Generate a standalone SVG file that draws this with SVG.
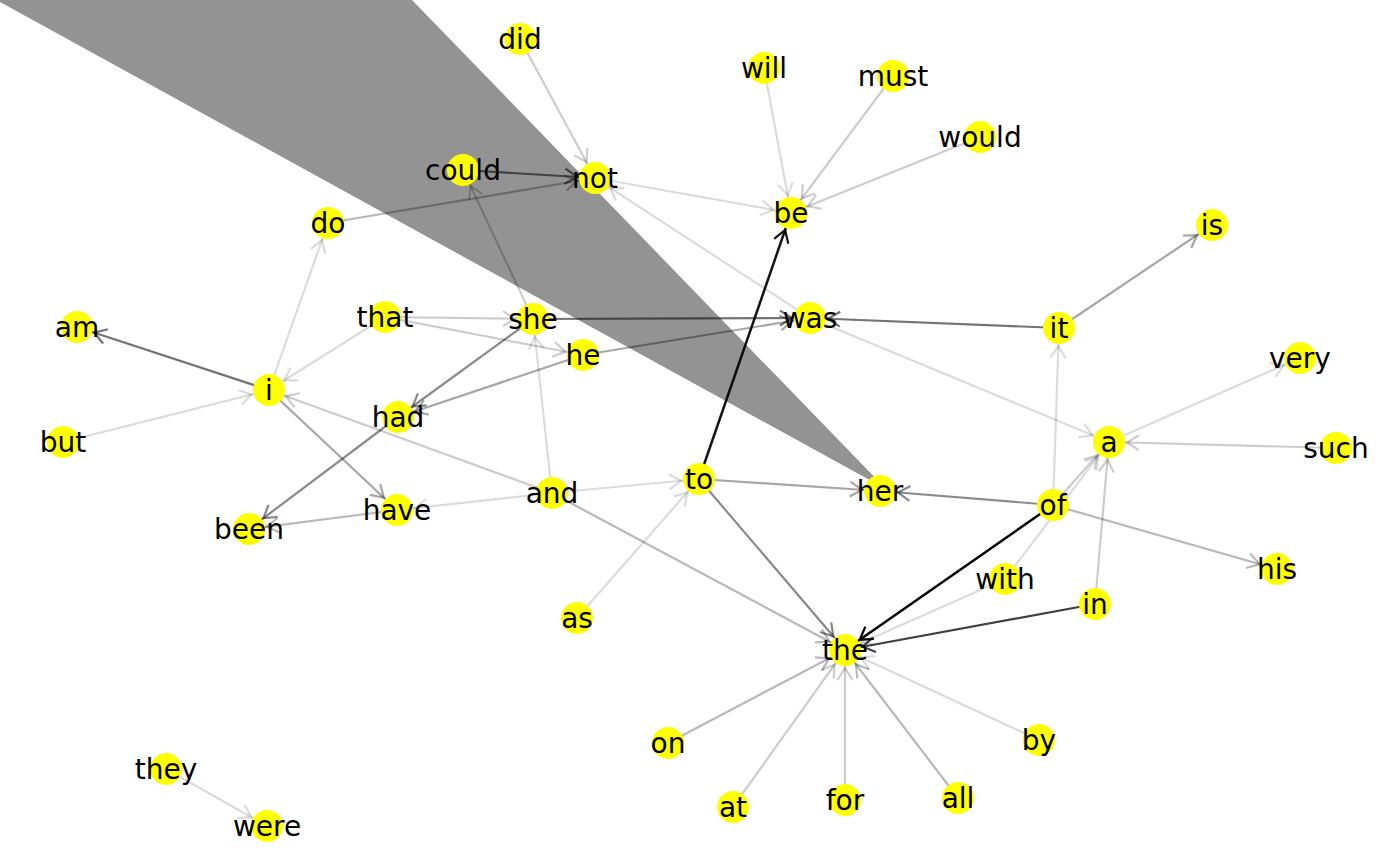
<svg xmlns="http://www.w3.org/2000/svg" width="1400" height="866" viewBox="0 0 1400 866">
<defs>
<style>
.e{fill:none;stroke:#000;stroke-width:2.2}
.c1{stroke-opacity:.14}.c2{stroke-opacity:.2}.c3{stroke-opacity:.28}.c4{stroke-opacity:.35}.c5{stroke-opacity:.46}.c6{stroke-opacity:.55}.c7{stroke-opacity:.75}.c8{stroke-opacity:.92;stroke-width:2.5}.c9{stroke-opacity:1;stroke-width:2.5}
.ah{fill:none;stroke:#000;stroke-width:2.2}
.n circle{fill:#ffff00}
.n text{font-family:"DejaVu Sans",sans-serif;font-size:28px;text-anchor:middle;fill:#000}
</style>
<marker id="m1" markerUnits="userSpaceOnUse" viewBox="-40 -10 40 20" refX="0" refY="0" markerWidth="40" markerHeight="20" orient="auto" overflow="visible"><path class="ah" stroke-opacity=".14" d="M-30,-7.5L-18,0L-30,7.5"/></marker>
<marker id="m2" markerUnits="userSpaceOnUse" viewBox="-40 -10 40 20" refX="0" refY="0" markerWidth="40" markerHeight="20" orient="auto" overflow="visible"><path class="ah" stroke-opacity=".2" d="M-30,-7.5L-18,0L-30,7.5"/></marker>
<marker id="m3" markerUnits="userSpaceOnUse" viewBox="-40 -10 40 20" refX="0" refY="0" markerWidth="40" markerHeight="20" orient="auto" overflow="visible"><path class="ah" stroke-opacity=".28" d="M-30,-7.5L-18,0L-30,7.5"/></marker>
<marker id="m4" markerUnits="userSpaceOnUse" viewBox="-40 -10 40 20" refX="0" refY="0" markerWidth="40" markerHeight="20" orient="auto" overflow="visible"><path class="ah" stroke-opacity=".35" d="M-30,-7.5L-18,0L-30,7.5"/></marker>
<marker id="m5" markerUnits="userSpaceOnUse" viewBox="-40 -10 40 20" refX="0" refY="0" markerWidth="40" markerHeight="20" orient="auto" overflow="visible"><path class="ah" stroke-opacity=".46" d="M-30,-7.5L-18,0L-30,7.5"/></marker>
<marker id="m6" markerUnits="userSpaceOnUse" viewBox="-40 -10 40 20" refX="0" refY="0" markerWidth="40" markerHeight="20" orient="auto" overflow="visible"><path class="ah" stroke-opacity=".55" d="M-30,-7.5L-18,0L-30,7.5"/></marker>
<marker id="m7" markerUnits="userSpaceOnUse" viewBox="-40 -10 40 20" refX="0" refY="0" markerWidth="40" markerHeight="20" orient="auto" overflow="visible"><path class="ah" stroke-opacity=".75" d="M-30,-7.5L-18,0L-30,7.5"/></marker>
<marker id="m8" markerUnits="userSpaceOnUse" viewBox="-40 -10 40 20" refX="0" refY="0" markerWidth="40" markerHeight="20" orient="auto" overflow="visible"><path class="ah" stroke-opacity=".92" stroke-width="2.5" d="M-30,-7.5L-18,0L-30,7.5"/></marker>
<marker id="m9" markerUnits="userSpaceOnUse" viewBox="-40 -10 40 20" refX="0" refY="0" markerWidth="40" markerHeight="20" orient="auto" overflow="visible"><path class="ah" stroke-width="2.5" d="M-30,-7.5L-18,0L-30,7.5"/></marker>
</defs>
<rect width="1400" height="866" fill="#ffffff"/>
<polygon id="band" points="0,0 412,0 886,489 0,2" fill="#939393"/>
<g id="edges">
<line class="e c2" x1="520" y1="39" x2="595" y2="178" marker-end="url(#m2)"/>
<line class="e c6" x1="463" y1="170" x2="595" y2="178" marker-end="url(#m6)"/>
<line class="e c3" x1="328" y1="223" x2="595" y2="178" marker-end="url(#m3)"/>
<line class="e c1" x1="595" y1="178" x2="791" y2="213" marker-end="url(#m1)"/>
<line class="e c1" x1="764" y1="68" x2="791" y2="213" marker-end="url(#m1)"/>
<line class="e c2" x1="893" y1="76" x2="791" y2="213" marker-end="url(#m2)"/>
<line class="e c2" x1="980" y1="137" x2="791" y2="213" marker-end="url(#m2)"/>
<line class="e c8" x1="699" y1="479" x2="791" y2="213" marker-end="url(#m8)"/>
<line class="e c1" x1="810" y1="318" x2="595" y2="178" marker-end="url(#m1)"/>
<line class="e c2" x1="533" y1="319" x2="463" y2="170" marker-end="url(#m2)"/>
<line class="e c6" x1="533" y1="319" x2="810" y2="318" marker-end="url(#m6)"/>
<line class="e c6" x1="1059" y1="328" x2="810" y2="318" marker-end="url(#m6)"/>
<line class="e c4" x1="1059" y1="328" x2="1212" y2="225" marker-end="url(#m4)"/>
<line class="e c4" x1="583" y1="355" x2="810" y2="318" marker-end="url(#m4)"/>
<line class="e c2" x1="385" y1="317" x2="533" y2="319" marker-end="url(#m2)"/>
<line class="e c2" x1="385" y1="317" x2="583" y2="355" marker-end="url(#m2)"/>
<line class="e c1" x1="385" y1="317" x2="269" y2="390" marker-end="url(#m1)"/>
<line class="e c5" x1="533" y1="319" x2="398" y2="417" marker-end="url(#m5)"/>
<line class="e c4" x1="583" y1="355" x2="398" y2="417" marker-end="url(#m4)"/>
<line class="e c1" x1="552" y1="493" x2="533" y2="319" marker-end="url(#m1)"/>
<line class="e c6" x1="269" y1="390" x2="77" y2="327" marker-end="url(#m6)"/>
<line class="e c1" x1="63" y1="442" x2="269" y2="390" marker-end="url(#m1)"/>
<line class="e c1" x1="269" y1="390" x2="328" y2="223" marker-end="url(#m1)"/>
<line class="e c4" x1="269" y1="390" x2="397" y2="510" marker-end="url(#m4)"/>
<line class="e c2" x1="552" y1="493" x2="269" y2="390" marker-end="url(#m2)"/>
<line class="e c5" x1="398" y1="417" x2="249" y2="529" marker-end="url(#m5)"/>
<line class="e c3" x1="397" y1="510" x2="249" y2="529" marker-end="url(#m3)"/>
<line class="e c1" x1="552" y1="493" x2="397" y2="510" marker-end="url(#m1)"/>
<line class="e c1" x1="552" y1="493" x2="699" y2="479" marker-end="url(#m1)"/>
<line class="e c1" x1="577" y1="618" x2="699" y2="479" marker-end="url(#m1)"/>
<line class="e c4" x1="699" y1="479" x2="880" y2="491" marker-end="url(#m4)"/>
<line class="e c5" x1="1053" y1="505" x2="880" y2="491" marker-end="url(#m5)"/>
<line class="e c5" x1="699" y1="479" x2="845" y2="650" marker-end="url(#m5)"/>
<line class="e c3" x1="552" y1="493" x2="845" y2="650" marker-end="url(#m3)"/>
<line class="e c7" x1="1095" y1="604" x2="845" y2="650" marker-end="url(#m7)"/>
<line class="e c1" x1="1005" y1="579" x2="845" y2="650" marker-end="url(#m1)"/>
<line class="e c3" x1="668" y1="743" x2="845" y2="650" marker-end="url(#m3)"/>
<line class="e c2" x1="733" y1="807" x2="845" y2="650" marker-end="url(#m2)"/>
<line class="e c2" x1="845" y1="800" x2="845" y2="650" marker-end="url(#m2)"/>
<line class="e c3" x1="958" y1="798" x2="845" y2="650" marker-end="url(#m3)"/>
<line class="e c1" x1="1039" y1="740" x2="845" y2="650" marker-end="url(#m1)"/>
<line class="e c1" x1="810" y1="318" x2="1109" y2="442" marker-end="url(#m1)"/>
<line class="e c1" x1="1053" y1="505" x2="1059" y2="328" marker-end="url(#m1)"/>
<line class="e c2" x1="1053" y1="505" x2="1109" y2="442" marker-end="url(#m2)"/>
<line class="e c1" x1="1005" y1="579" x2="1109" y2="442" marker-end="url(#m1)"/>
<line class="e c2" x1="1095" y1="604" x2="1109" y2="442" marker-end="url(#m2)"/>
<line class="e c1" x1="1109" y1="442" x2="1300" y2="358" marker-end="url(#m1)"/>
<line class="e c2" x1="1336" y1="448" x2="1109" y2="442" marker-end="url(#m2)"/>
<line class="e c3" x1="1053" y1="505" x2="1277" y2="569" marker-end="url(#m3)"/>
<line class="e c9" x1="1053" y1="505" x2="845" y2="650" marker-end="url(#m9)"/>
<line class="e c1" x1="166" y1="769" x2="267" y2="826" marker-end="url(#m1)"/>
</g>
<g id="n-did" class="n"><circle cx="520" cy="39" r="16"/><text x="520" y="49">did</text></g>
<g id="n-could" class="n"><circle cx="463" cy="170" r="16"/><text x="463" y="180">could</text></g>
<g id="n-not" class="n"><circle cx="595" cy="178" r="16"/><text x="595" y="188">not</text></g>
<g id="n-will" class="n"><circle cx="764" cy="68" r="16"/><text x="764" y="78">will</text></g>
<g id="n-must" class="n"><circle cx="893" cy="76" r="16"/><text x="893" y="86">must</text></g>
<g id="n-would" class="n"><circle cx="980" cy="137" r="16"/><text x="980" y="147">would</text></g>
<g id="n-be" class="n"><circle cx="791" cy="213" r="16"/><text x="791" y="223">be</text></g>
<g id="n-is" class="n"><circle cx="1212" cy="225" r="16"/><text x="1212" y="235">is</text></g>
<g id="n-do" class="n"><circle cx="328" cy="223" r="16"/><text x="328" y="233">do</text></g>
<g id="n-am" class="n"><circle cx="77" cy="327" r="16"/><text x="77" y="337">am</text></g>
<g id="n-but" class="n"><circle cx="63" cy="442" r="16"/><text x="63" y="452">but</text></g>
<g id="n-i" class="n"><circle cx="269" cy="390" r="16"/><text x="269" y="400">i</text></g>
<g id="n-that" class="n"><circle cx="385" cy="317" r="16"/><text x="385" y="327">that</text></g>
<g id="n-she" class="n"><circle cx="533" cy="319" r="16"/><text x="533" y="329">she</text></g>
<g id="n-he" class="n"><circle cx="583" cy="355" r="16"/><text x="583" y="365">he</text></g>
<g id="n-was" class="n"><circle cx="810" cy="318" r="16"/><text x="810" y="328">was</text></g>
<g id="n-it" class="n"><circle cx="1059" cy="328" r="16"/><text x="1059" y="338">it</text></g>
<g id="n-very" class="n"><circle cx="1300" cy="358" r="16"/><text x="1300" y="368">very</text></g>
<g id="n-a" class="n"><circle cx="1109" cy="442" r="16"/><text x="1109" y="452">a</text></g>
<g id="n-such" class="n"><circle cx="1336" cy="448" r="16"/><text x="1336" y="458">such</text></g>
<g id="n-had" class="n"><circle cx="398" cy="417" r="16"/><text x="398" y="427">had</text></g>
<g id="n-have" class="n"><circle cx="397" cy="510" r="16"/><text x="397" y="520">have</text></g>
<g id="n-been" class="n"><circle cx="249" cy="529" r="16"/><text x="249" y="539">been</text></g>
<g id="n-and" class="n"><circle cx="552" cy="493" r="16"/><text x="552" y="503">and</text></g>
<g id="n-to" class="n"><circle cx="699" cy="479" r="16"/><text x="699" y="489">to</text></g>
<g id="n-her" class="n"><circle cx="880" cy="491" r="16"/><text x="880" y="501">her</text></g>
<g id="n-of" class="n"><circle cx="1053" cy="505" r="16"/><text x="1053" y="515">of</text></g>
<g id="n-his" class="n"><circle cx="1277" cy="569" r="16"/><text x="1277" y="579">his</text></g>
<g id="n-with" class="n"><circle cx="1005" cy="579" r="16"/><text x="1005" y="589">with</text></g>
<g id="n-in" class="n"><circle cx="1095" cy="604" r="16"/><text x="1095" y="614">in</text></g>
<g id="n-as" class="n"><circle cx="577" cy="618" r="16"/><text x="577" y="628">as</text></g>
<g id="n-the" class="n"><circle cx="845" cy="650" r="16"/><text x="845" y="660">the</text></g>
<g id="n-on" class="n"><circle cx="668" cy="743" r="16"/><text x="668" y="753">on</text></g>
<g id="n-by" class="n"><circle cx="1039" cy="740" r="16"/><text x="1039" y="750">by</text></g>
<g id="n-at" class="n"><circle cx="733" cy="807" r="16"/><text x="733" y="817">at</text></g>
<g id="n-for" class="n"><circle cx="845" cy="800" r="16"/><text x="845" y="810">for</text></g>
<g id="n-all" class="n"><circle cx="958" cy="798" r="16"/><text x="958" y="808">all</text></g>
<g id="n-they" class="n"><circle cx="166" cy="769" r="16"/><text x="166" y="779">they</text></g>
<g id="n-were" class="n"><circle cx="267" cy="826" r="16"/><text x="267" y="836">were</text></g>
</svg>
